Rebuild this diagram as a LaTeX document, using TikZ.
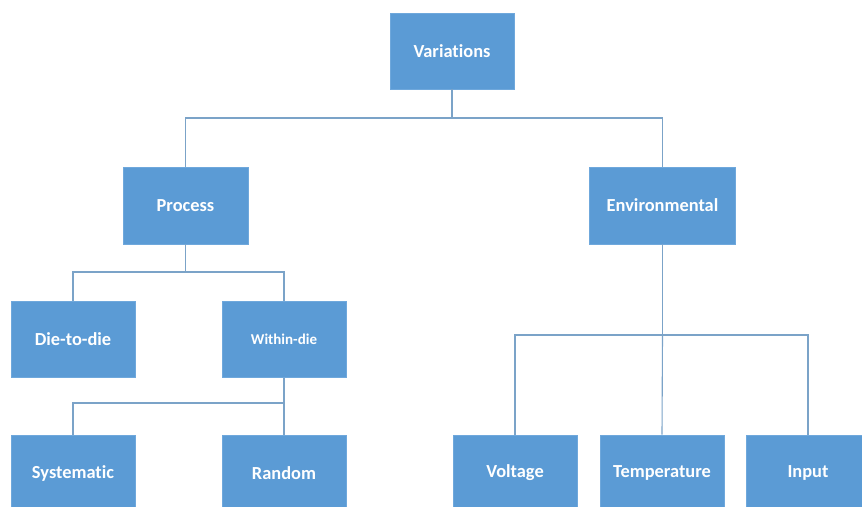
\documentclass[tikz,border=0pt]{standalone}
\usepackage{fontspec}
\setmainfont[Ligatures={NoCommon}]{Carlito}
\definecolor{boxblue}{HTML}{5B9BD5}
\definecolor{boxedge}{HTML}{6FA8DC}
\definecolor{linkblue}{HTML}{7BA3C8}
\begin{document}
\begin{tikzpicture}[x=1pt,y=-1pt,
  box/.style={fill=boxblue,draw=boxedge,line width=0.6pt,text=white,
    minimum width=124pt,minimum height=76pt,inner sep=0pt,
    font=\fontsize{18.4}{20}\selectfont\bfseries},
  conn/.style={draw=linkblue,line width=1.1pt}]
\clip (0,0) rectangle (862,506);
\fill[white] (0,0) rectangle (862,506);
\node[box] (var) at (452,51) {Variations};
\node[box,minimum width=125pt,minimum height=77pt] (proc) at (185.5,205.5) {Process};
\node[box,minimum width=146pt,minimum height=77pt] (env) at (662.5,205.5) {Environmental};
\node[box] (d2d) at (73,339.5) {Die-to-die};
\node[box,font=\fontsize{15}{17}\selectfont\bfseries] (wd) at (284,339.5) {Within-die};
\node[box] (sys) at (73,473) {Systematic};
\node[box] (rand) at (284,473) {Random};
\node[box] (volt) at (515,473) {Voltage};
\node[box] (temp) at (662,473) {Temperature};
\node[box] (inp) at (808,473) {Input};
\coordinate (b1) at (452,118);
\coordinate (b2) at (185.5,272);
\coordinate (b3) at (284,403);
\coordinate (b4) at (662.5,335);
\draw[conn] (var.south) -- (b1);
\draw[conn] (b1) -| (proc.north);
\draw[conn] (b1) -| (env.north);
\draw[conn] (proc.south) -- (b2);
\draw[conn] (b2) -| (d2d.north);
\draw[conn] (b2) -| (wd.north);
\draw[conn] (wd.south) -- (b3);
\draw[conn] (b3) -| (sys.north);
\draw[conn] (b3) -- (rand.north);
\draw[conn] (env.south) -- (b4);
\draw[conn] (b4) -| (volt.north);
\draw[conn] (b4) -| (inp.north);
\draw[conn] (b4) -- (temp.north);
\end{tikzpicture}
\end{document}
